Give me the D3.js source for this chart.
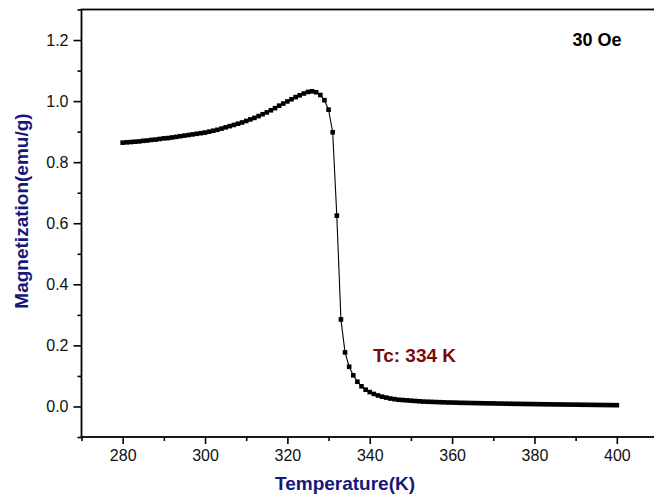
<!DOCTYPE html>
<html>
<head>
<meta charset="utf-8">
<script src="https://cdn.jsdelivr.net/npm/d3@7"></script>
<style>
  body { margin: 0; background: #fff; }
  svg { display: block; font-family: "Liberation Sans", Arial, sans-serif; }
</style>
</head>
<body>
<div id="chart"></div>
<script>
// temperature (K), one reading per kelvin
var temperature = d3.range(280, 401);
// magnetization (emu/g), same order as temperature
var magnetization = [
  0.864, 0.865, 0.866, 0.867, 0.868, 0.870, 0.871, 0.873, 0.874, 0.876,
  0.878, 0.879, 0.881, 0.883, 0.885, 0.887, 0.889, 0.891, 0.893, 0.895,
  0.897, 0.900, 0.903, 0.906, 0.910, 0.914, 0.918, 0.922, 0.926, 0.930,
  0.935, 0.940, 0.945, 0.951, 0.957, 0.963, 0.970, 0.977, 0.985, 0.992,
  0.999, 1.006, 1.013, 1.019, 1.025, 1.030, 1.032, 1.029, 1.020, 1.003,
  0.972, 0.898, 0.625, 0.285, 0.177, 0.130, 0.102, 0.081, 0.066, 0.055,
  0.047, 0.041, 0.036, 0.032, 0.029, 0.026, 0.024, 0.022, 0.021, 0.020,
  0.019, 0.018, 0.017, 0.016, 0.0155, 0.015, 0.0145, 0.014, 0.0135, 0.013,
  0.0128, 0.0125, 0.012, 0.0118, 0.0115, 0.0112, 0.011, 0.0107, 0.0104, 0.0102,
  0.010, 0.0097, 0.0094, 0.0092, 0.0089, 0.0087, 0.0085, 0.0083, 0.0081, 0.0079,
  0.0077, 0.0075, 0.0073, 0.0071, 0.0069, 0.0067, 0.0066, 0.0064, 0.0062, 0.0060,
  0.0059, 0.0057, 0.0055, 0.0054, 0.0052, 0.0050, 0.0049, 0.0047, 0.0045, 0.0044,
  0.0042
];
var xMajor = [280, 300, 320, 340, 360, 380, 400];
var xMinor = [270, 290, 310, 330, 350, 370, 390, 410];
var yMajor = [0.0, 0.2, 0.4, 0.6, 0.8, 1.0, 1.2];
var yMinor = [-0.1, 0.1, 0.3, 0.5, 0.7, 0.9, 1.1, 1.3];

var W = 654, H = 495;
var margin = {top: 9.5, left: 81.5, bottom: 58, right: -4};
var navy = "#17177a";

var svg = d3.select("#chart").append("svg")
    .attr("width", W)
    .attr("height", H);

var x = d3.scaleLinear()
    .domain([270, 410])
    .range([margin.left, W - margin.right]);

var y = d3.scaleLinear()
    .domain([-0.1, 1.3])
    .range([H - margin.bottom, margin.top]);

// frame (right side falls just outside the picture)
svg.append("rect")
    .attr("x", x(270))
    .attr("y", y(1.3))
    .attr("width", x(410) - x(270))
    .attr("height", y(-0.1) - y(1.3))
    .attr("fill", "none")
    .attr("stroke", "#000")
    .attr("stroke-width", 1.8);

svg.append("g")
    .attr("transform", "translate(0," + y(-0.1) + ")")
    .call(d3.axisBottom(x).tickValues(xMajor).tickSize(7).tickPadding(6).tickFormat(d3.format("d")));
svg.append("g")
    .attr("transform", "translate(0," + y(-0.1) + ")")
    .call(d3.axisBottom(x).tickValues(xMinor).tickSize(4).tickFormat(""));

svg.append("g")
    .attr("transform", "translate(" + x(270) + ",0)")
    .call(d3.axisLeft(y).tickValues(yMajor).tickSize(8).tickPadding(5).tickFormat(d3.format(".1f")));
svg.append("g")
    .attr("transform", "translate(" + x(270) + ",0)")
    .call(d3.axisLeft(y).tickValues(yMinor).tickSize(4).tickFormat(""));

svg.selectAll(".domain").remove();
svg.selectAll(".tick line").attr("stroke", "#000").attr("stroke-width", 1.6);
svg.selectAll(".tick text")
    .attr("fill", "#111")
    .style("font-size", "16px")
    .style("font-family", "'Liberation Sans', Arial, sans-serif");

// thin connecting line
var pts = temperature.map(function(t, i){ return {t: t, m: magnetization[i]}; });
var line = d3.line()
    .x(function(d){ return x(d.t); })
    .y(function(d){ return y(d.m); });

svg.append("path")
    .datum(pts)
    .attr("d", line)
    .attr("fill", "none")
    .attr("stroke", "#000")
    .attr("stroke-width", 1.1);

var s = 4.6;
svg.selectAll("rect.pt")
    .data(pts)
    .enter()
    .append("rect")
    .attr("class", "pt")
    .attr("x", function(d){ return x(d.t) - s / 2; })
    .attr("y", function(d){ return y(d.m) - s / 2; })
    .attr("width", s)
    .attr("height", s)
    .attr("fill", "#000");

// axis titles
svg.append("text")
    .attr("x", 345)
    .attr("y", 490)
    .attr("text-anchor", "middle")
    .attr("fill", navy)
    .style("font-size", "19px")
    .style("font-weight", "bold")
    .text("Temperature(K)");

svg.append("text")
    .attr("transform", "translate(28,211) rotate(-90)")
    .attr("text-anchor", "middle")
    .attr("fill", navy)
    .style("font-size", "19px")
    .style("font-weight", "bold")
    .text("Magnetization(emu/g)");

// annotations
svg.append("text")
    .attr("x", 597)
    .attr("y", 46)
    .attr("text-anchor", "middle")
    .attr("fill", "#000")
    .style("font-size", "18px")
    .style("font-weight", "bold")
    .text("30 Oe");

svg.append("text")
    .attr("x", 373)
    .attr("y", 362)
    .attr("fill", "#7a0a0a")
    .style("font-size", "19px")
    .style("font-weight", "bold")
    .text("Tc: 334 K");
</script>
</body>
</html>
